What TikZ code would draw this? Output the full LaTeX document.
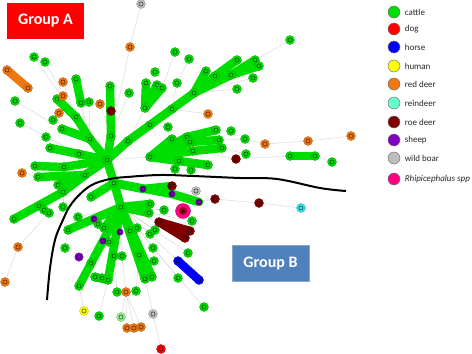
\documentclass[tikz,border=0pt]{standalone}
\usepackage{fontspec}
\setmainfont{Carlito}
\usepackage{tikz}
\usetikzlibrary{positioning,backgrounds}
\definecolor{catGreen}{HTML}{00DD00}
\definecolor{paleGreen}{HTML}{90F090}
\definecolor{dogRed}{HTML}{FF0000}
\definecolor{horseBlue}{HTML}{0000FF}
\definecolor{humanYellow}{HTML}{FFFF00}
\definecolor{redDeer}{HTML}{F07810}
\definecolor{reinCyan}{HTML}{66FFCC}
\definecolor{reinNet}{HTML}{40E0F0}
\definecolor{roeDeer}{HTML}{800000}
\definecolor{sheepPurple}{HTML}{8000C0}
\definecolor{boarGray}{HTML}{BEBEBE}
\definecolor{tickPink}{HTML}{FF0080}
\definecolor{groupRed}{HTML}{FF0000}
\definecolor{groupBlue}{HTML}{4F81BD}
\definecolor{tieGray}{HTML}{DADADA}

\begin{document}
\begin{tikzpicture}[
    x=1pt, y=-1pt,
    font=\fontsize{9}{10}\selectfont,
    sp/.style={circle, inner sep=0pt, minimum size=9pt, fill=#1, draw=#1!75!black, line width=0.3pt,
        path picture={\draw[#1!35!black, line width=0.6pt] (path picture bounding box.center) circle (2.1pt);}},
    cattle/.style={sp=catGreen},
    reddeer/.style={sp=redDeer},
    roedeer/.style={sp=roeDeer},
    sheep/.style={sp=sheepPurple, minimum size=6.5pt},
    boar/.style={sp=boarGray},
    tick/.style={circle, inner sep=0pt, minimum size=15pt, fill=tickPink, draw=tickPink!70!black, line width=0.3pt,
        path picture={\fill[roeDeer!80!tickPink] (path picture bounding box.center) circle (4pt);
                      \fill[black] (path picture bounding box.center) circle (1.5pt);}},
    key/.style={circle, inner sep=0pt, minimum size=12pt, draw=black!55, line width=0.5pt},
    group/.style={rectangle, minimum width=77pt, minimum height=36pt, text=white,
        font=\fontsize{16}{18}\selectfont\bfseries},
    band/.style={line width=8.5pt, line cap=round, draw=#1},
    band/.default=catGreen,
    tie/.style={draw=tieGray, line width=0.5pt},
    divider/.style={draw=black, line width=2pt}
]
    \useasboundingbox (0,0) rectangle (472,354);

    % Cattle
    \foreach \n/\x/\y in {h1/107/160, h2/114/183, h3/121/207, h4/194/93, h5/150/157,
        u1/128/141, u2/150/125, u3/172/109,
        a1/206/71, a2/215/76, a3/237/60, a4/231/75, a5/255/60, a6/259/66, a7/253/78, a8/237/89,
        a9/290/40, a10/175/52, a11/189/59, a12/177/83,
        f0/145/108, f1/146/83, f2/157/85, f3/162/88, f4/155/72,
        v1/110/86, v2/111/136, w1/76/79, w2/81/103, w3/89/102, g1/129/93,
        x1/57/99, x3/76/117, x4/90/139, x5/62/129, x6/53/120, x7/46/137, x8/20/123, x9/15/101,
        x10/34/57, x11/45/62, x12/79/154, x13/50/148,
        y1/85/175, y2/38/177, y3/35/166, y4/64/167, y5/58/185, y6/63/192, y8/14/219,
        y9/39/206, y10/44/210, y11/49/213, y12/63/207, z1/91/197,
        k1/172/139, k2/187/137, k3/216/130, k4/190/142, k5/219/140, k6/193/151, k7/222/148,
        k8/179/161, k9/208/165, k10/175/169, k11/191/170, k12/168/127, k13/231/131, k14/245/139,
        k15/246/154, k16/290/156, k17/315/156, k18/332/162,
        m1/150/204, m2/149/213, m3/164/210, m4/192/221, m5/68/230, m6/78/217, m7/98/224, m8/104/228,
        m9/130/231, m10/137/228, m11/150/234, m12/155/230, m13/109/242, m14/65/248, m15/91/263,
        m16/114/256, m17/122/256, m18/139/255, m19/153/248, m20/154/261, m21/188/253,
        m22/95/277, m23/102/278, m24/108/280, m25/79/286, m26/145/279, m27/152/277, m28/178/278,
        m29/117/292, m30/136/291, m31/99/316, m33/204/307}
        \node[cattle] (\n) at (\x,\y) {};
    \node[sp=paleGreen] (m32) at (121,317) {};

    % Red deer
    \foreach \n/\x/\y in {o1/100/104, o2/130/47, o3/63/96, o4/63/82, o5/59/113, o6/7/70, o7/28/88,
        o8/22/173, o9/265/144, o10/308/141, o11/351/136, o12/208/114, o13/126/292,
        o14/127/328, o15/134/328, o16/141/327, o17/18/247, o18/5/282}
        \node[reddeer] (\n) at (\x,\y) {};

    % Roe deer, sheep, wild boar
    \foreach \n/\x/\y in {r1/111/111, r2/172/186, r3/215/199, r4/259/203, r5/236/159,
        r6/159/222, r7/190/231, r8/185/238}
        \node[roedeer] (\n) at (\x,\y) {};
    \foreach \n/\x/\y in {s1/143/189, s2/172/194, s3/199/202, s4/94/219, s5/120/232, s6/103/241}
        \node[sheep] (\n) at (\x,\y) {};
    \node[sheep, minimum size=8.5pt] (s7) at (79,257) {};
    \foreach \n/\x/\y in {b1/141/4, b2/196/191, b3/153/314}
        \node[boar] (\n) at (\x,\y) {};

    % Single hosts
    \node[sp=reinNet] (ri) at (301,208) {};
    \node[sp=humanYellow] (hu) at (84,311) {};
    \node[sp=dogRed] (dg) at (161,349) {};
    \node[sp=horseBlue] (hs1) at (178,261) {};
    \node[sp=horseBlue] (hs2) at (199,280) {};
    \node[tick] (pk) at (183,211) {};

    % Links
    \begin{scope}[on background layer]
        \foreach \a/\b in {b1/o2, o2/v2, x10/x3, x11/x3, o4/x3, w2/x4, w3/x4, o1/v2, x9/x5,
            x8/x12, x6/x4, x7/x12, o5/x3, g1/v2, f0/u1, f4/f0, a10/f3, a11/a12, a12/u3,
            h4/a7, h4/a8, a5/a9, u2/k12, h1/h5, k3/k13, k5/k14, k14/o9, o9/o10, o10/o11,
            k7/k15, k6/r5, r5/k16, k17/k18, k8/k10, k8/k11, u3/o12, o8/y2, o17/y11, o18/o17,
            y12/y6, s2/b2, s3/r3, r3/r4, r4/ri, h3/m3, h3/pk, h3/r6, h3/m6, m5/m14, h3/s4,
            h3/m7, h3/s5, h3/m9, h3/m11, h3/m12, h3/m13, s6/s7, h3/m17, h3/m19, h3/m21,
            h3/hs1, h3/m28, m19/m33, m16/m29, m17/o13, o13/o14, o13/o15, o13/o16, o13/m32,
            m18/m30, m26/b3, b3/dg, m25/hu, m24/m31, h3/m4}
            \draw[tie] (\a.center) -- (\b.center);
        \foreach \a/\b in {h1/h2, h2/h3, h1/u1, u1/u2, u2/u3, u3/h4,
            h4/a1, h4/a2, a2/a3, h4/a4, a4/a5, a4/a6, f0/f1, f0/f2, f0/f3,
            h1/v2, v2/v1, w1/w2, h1/x4, x4/x3, x3/x1, x5/x4, h1/x12, x12/x13,
            h1/y4, y4/y3, h1/y1, y1/y2, y1/y5, y1/y6, y6/y8,
            h2/z1, h2/s1, s1/r2, h2/s2, s2/s3,
            h5/k1, h5/k2, k2/k3, h5/k4, k4/k5, h5/k6, k6/k7, h5/k8, k8/k9, k16/k17,
            h3/m1, h3/m2, h3/m5, h3/m8, h3/m25, h3/m24, m22/m24, h3/m26, h3/m27}
            \draw[band] (\a.center) -- (\b.center);
        \draw[band=roeDeer, line join=round] (r7.center) -- (r6.center) -- (r8.center);
        \fill[roeDeer] (r6.center) -- (r7.center) -- (r8.center) -- cycle;
        \draw[band=horseBlue] (hs1.center) -- (hs2.center);
        \draw[band=redDeer] (o6.center) -- (o7.center);
    \end{scope}

    % Group border
    \draw[divider] plot[smooth, tension=0.6] coordinates {(47,300) (50,268) (55,240) (62,222)
        (72,203) (90,186) (110,179) (127,177) (160,175) (193,176) (240,178) (277,179)
        (320,188) (346,191)};

    % Groups
    \node[group, fill=groupRed] (grpA) at (45.5,21) {Group A};
    \node[group, fill=groupBlue, draw=groupBlue!70!white] (grpB) at (270.5,263.5) {Group B};

    % Legend
    \foreach \c/\t/\y [count=\i] in {catGreen/cattle/12, dogRed/dog/29, horseBlue/horse/47,
        humanYellow/human/66, redDeer/red deer/84, reinCyan/reindeer/103, roeDeer/roe deer/122,
        sheepPurple/sheep/140, boarGray/wild boar/158, tickPink/\textit{Rhipicephalus spp}/179} {
        \node[key, fill=\c] (key\i) at (394,\y) {};
        \node[right=1pt of key\i, text=black!85] (lab\i) {\t};
    }
\end{tikzpicture}
\end{document}
